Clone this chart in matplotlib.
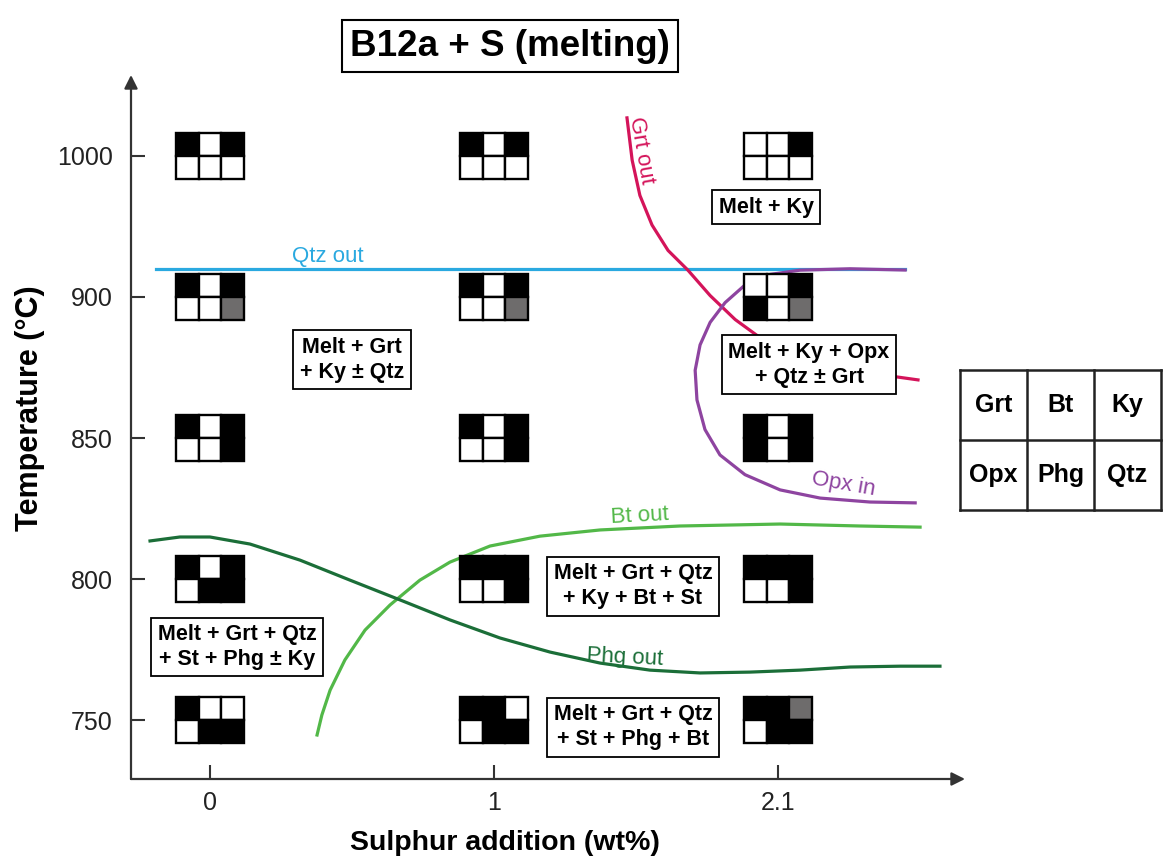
import numpy as np
import matplotlib
matplotlib.use("Agg")
import matplotlib.pyplot as plt
from matplotlib.patches import Rectangle

plt.rcParams['font.family'] = ['Liberation Sans', 'DejaVu Sans']

# ---------------- data ----------------
sulphur_ticks = [0, 1, 2.1]
sulphur_labels = ["0", "1", "2.1"]
temp_ticks = [750, 800, 850, 900, 1000]
temp_labels = ["750", "800", "850", "900", "1000"]

legend_phases = [["Grt", "Bt", "Ky"], ["Opx", "Phg", "Qtz"]]

# icon states per temperature, one string per sulphur value (0, 1, 2.1)
# order: Grt Bt Ky / Opx Phg Qtz ; B = present, W = absent, G = minor
icon_states = {
    1000: ["BWBWWW", "BWBWWW", "WWBWWW"],
    900:  ["BWBWWG", "BWBWWG", "WWBBWG"],
    850:  ["BWBWWB", "BWBWWB", "BWBBWB"],
    800:  ["BWBWBB", "BBBWWB", "BBBWWB"],
    750:  ["BWWWBB", "BBWWBB", "BBGWBB"],
}

qtz_out_S = [-0.19, 2.59]
qtz_out_T = [920, 920]

grt_out_S = [1.515, 1.535, 1.565, 1.612, 1.674, 1.751, 1.837, 1.934, 2.069, 2.224, 2.379, 2.533, 2.642]
grt_out_T = [1027, 997, 972, 951, 933, 919, 901, 892, 883, 877, 873, 872, 870.6]

opx_in_S = [2.592, 2.379, 2.185, 2.069, 1.972, 1.895, 1.837, 1.798, 1.779, 1.786, 1.817, 1.875, 1.972, 2.108, 2.263, 2.456, 2.631]
opx_in_T = [919.1, 920, 919, 916, 908.5, 898, 891, 883, 874, 863.5, 853, 844, 837, 831.6, 828.7, 827.3, 827]

bt_out_S = [0.377, 0.394, 0.423, 0.475, 0.546, 0.634, 0.739, 0.845, 0.986, 1.178, 1.411, 1.720, 2.108, 2.418, 2.65]
bt_out_T = [744.7, 751.8, 760.6, 771.3, 781.9, 790.8, 799.6, 806, 811.7, 815.2, 817.4, 818.8, 819.5, 818.8, 818.4]

phg_out_S = [-0.211, -0.106, 0, 0.141, 0.317, 0.493, 0.669, 0.845, 1.023, 1.217, 1.411, 1.604, 1.798, 1.991, 2.185, 2.379, 2.573, 2.727]
phg_out_T = [813.5, 814.9, 814.9, 812.4, 806.7, 799.6, 792.6, 785.5, 779.1, 774.1, 770.2, 767.7, 766.7, 767, 767.7, 768.8, 769.1, 769.1]

# ---------------- scales ----------------
def xf(x):
    x = np.asarray(x, float)
    return np.where(x <= 1, x, 1 + (x - 1) / 1.1)

def xi(p):
    p = np.asarray(p, float)
    return np.where(p <= 1, p, 1 + (p - 1) * 1.1)

def yf(t):
    t = np.asarray(t, float)
    return np.where(t <= 900, (t - 750) / 50.0, 3 + (t - 900) / 100.0)

def yi(p):
    p = np.asarray(p, float)
    return np.where(p <= 3, 750 + 50 * p, 900 + 100 * (p - 3))

W, H = 1163, 859
fig = plt.figure(figsize=(W / 100, H / 100), dpi=100)
fig.patch.set_facecolor('white')

ax_l, ax_r, ax_t, ax_b = 131, 965, 75, 779
ax = fig.add_axes([ax_l / W, 1 - ax_b / H, (ax_r - ax_l) / W, (ax_b - ax_t) / H])
ax.set_xscale('function', functions=(xf, xi))
ax.set_yscale('function', functions=(yf, yi))
ax.set_xlim(-0.278, 2.824)
ax.set_ylim(729.1, 1057.4)
for s in ax.spines.values():
    s.set_visible(False)
ax.patch.set_alpha(0)

axis_col = '#333333'
ax.annotate('', xy=(0, 1.0), xytext=(0, 0), xycoords='axes fraction',
            arrowprops=dict(arrowstyle='-|>', lw=1.6, color=axis_col, shrinkA=0, shrinkB=0, mutation_scale=20))
ax.annotate('', xy=(1.0, 0), xytext=(0, 0), xycoords='axes fraction',
            arrowprops=dict(arrowstyle='-|>', lw=1.6, color=axis_col, shrinkA=0, shrinkB=0, mutation_scale=20))

ax.set_xticks(sulphur_ticks)
ax.set_xticklabels(sulphur_labels)
ax.set_yticks(temp_ticks)
ax.set_yticklabels(temp_labels)
ax.minorticks_off()
ax.tick_params(axis='both', direction='in', length=10, width=1.5, color=axis_col,
               labelsize=18, labelcolor='#222222')
ax.tick_params(axis='y', pad=13)
ax.tick_params(axis='x', pad=9)

# ---------------- curves ----------------
lw = 2.3
ax.plot(qtz_out_S, qtz_out_T, color='#2aa9e0', lw=lw, zorder=2)
ax.plot(grt_out_S, grt_out_T, color='#d4145a', lw=lw, zorder=2)
ax.plot(opx_in_S, opx_in_T, color='#8e44a0', lw=lw, zorder=2)
ax.plot(bt_out_S, bt_out_T, color='#52b848', lw=lw, zorder=2)
ax.plot(phg_out_S, phg_out_T, color='#1b6e38', lw=lw, zorder=2)

lab_fs = 16
ax.text(0.415, 928.4, "Qtz out", color='#2aa9e0', fontsize=lab_fs, ha='center', va='center')
ax.text(1.570, 1004, "Grt out", color='#d4145a', fontsize=lab_fs, ha='center', va='center', rotation=-80)
ax.text(1.565, 822.3, "Bt out", color='#52b848', fontsize=lab_fs, ha='center', va='center', rotation=3)
ax.text(1.507, 772.3, "Phg out", color='#1b6e38', fontsize=lab_fs, ha='center', va='center', rotation=-3)
ax.text(2.352, 833.7, "Opx in", color='#8e44a0', fontsize=lab_fs, ha='center', va='center', rotation=-10)

# ---------------- icons ----------------
ax_wpx = (ax_r - ax_l)
ax_hpx = (ax_b - ax_t)
icon_w, icon_h = 68, 46
colmap = {'B': 'black', 'W': 'white', 'G': '#6e6c6c'}
for T, row in icon_states.items():
    for S, states in zip(sulphur_ticks, row):
        cx, cy = ax.transAxes.inverted().transform(ax.transData.transform((S, T)))
        cw = icon_w / 3 / ax_wpx
        ch = icon_h / 2 / ax_hpx
        x0 = cx - 1.5 * cw
        y_top = cy + ch
        for i, st in enumerate(states):
            r, c = divmod(i, 3)
            ax.add_patch(Rectangle((x0 + c * cw, y_top - (r + 1) * ch), cw, ch,
                                   transform=ax.transAxes, facecolor=colmap[st],
                                   edgecolor='black', lw=1.7, zorder=4))

# ---------------- field labels ----------------
box = dict(boxstyle='square,pad=0.3', fc='white', ec='black', lw=1.3)
fl_fs = 15.5
fields = [
    (2.054, 963.8, "Melt + Ky"),
    (0.5, 877.7, "Melt + Grt\n+ Ky ± Qtz"),
    (2.22, 875.9, "Melt + Ky + Opx\n+ Qtz ± Grt"),
    (0.095, 775.9, "Melt + Grt + Qtz\n+ St + Phg ± Ky"),
    (1.538, 797.5, "Melt + Grt + Qtz\n+ Ky + Bt + St"),
    (1.538, 747.5, "Melt + Grt + Qtz\n+ St + Phg + Bt"),
]
for S, T, txt in fields:
    ax.text(S, T, txt, fontsize=fl_fs, fontweight='bold', ha='center', va='center',
            bbox=box, zorder=6, linespacing=1.25)

# ---------------- title & axis labels ----------------
fig.text(510 / W, 1 - 46 / H, "B12a + S (melting)", fontsize=26.5, fontweight='bold',
         ha='center', va='center',
         bbox=dict(boxstyle='square,pad=0.22', fc='white', ec='black', lw=1.5))
fig.text(505 / W, 1 - 843 / H, "Sulphur addition (wt%)", fontsize=20.5, fontweight='bold',
         ha='center', va='center')
fig.text(30 / W, 1 - 408 / H, "Temperature (°C)", fontsize=22, fontweight='bold',
         ha='center', va='center', rotation=90)

# ---------------- legend table ----------------
lax = fig.add_axes([960 / W, 1 - 510 / H, 201 / W, 140 / H])
lax.set_xlim(0, 3)
lax.set_ylim(0, 2)
lax.axis('off')
for xv in [0, 1, 2, 3]:
    lax.plot([xv, xv], [0, 2], color='#222222', lw=1.8, clip_on=False)
for yv in [0, 1, 2]:
    lax.plot([0, 3], [yv, yv], color='#222222', lw=1.8, clip_on=False)
for r, rowp in enumerate(legend_phases):
    for c, p in enumerate(rowp):
        lax.text(c + 0.5, 1.5 - r, p, fontsize=18, fontweight='bold', ha='center', va='center')

fig.savefig("out.png", dpi=100, facecolor='white')
